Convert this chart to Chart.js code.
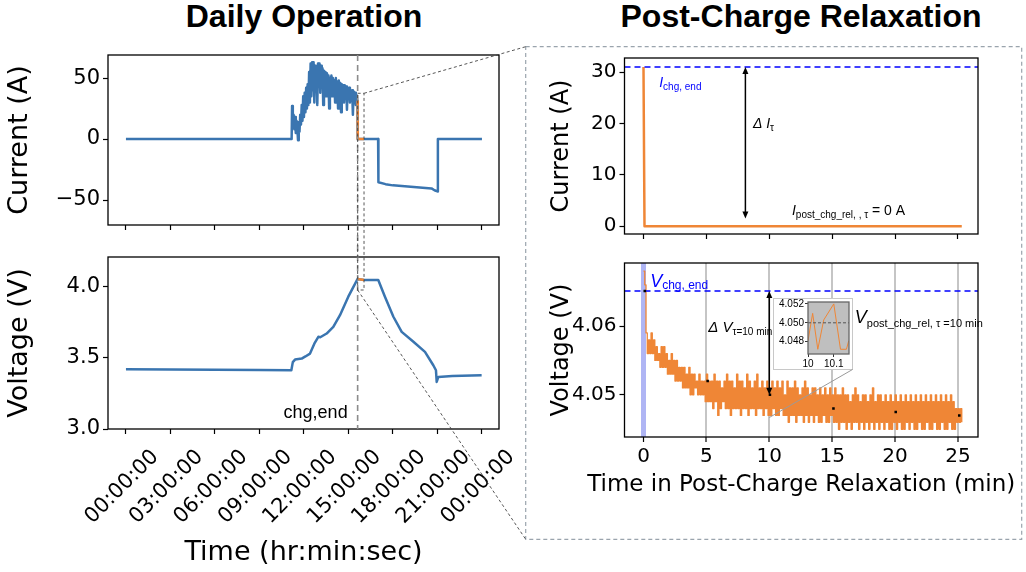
<!DOCTYPE html>
<html>
<head>
<meta charset="utf-8">
<script src="https://cdn.jsdelivr.net/npm/chart.js@4.4.1/dist/chart.umd.min.js"></script>
<style>
  body { margin: 0; background: #fff; }
  #fig { position: relative; width: 1026px; height: 572px; overflow: hidden; background: #fff; }
  #fig canvas { position: absolute; }
  .title { position: absolute; top: 0px; width: 440px; text-align: center; color: #000;
           font: bold 32px 'Liberation Sans', Arial, sans-serif; line-height: 32px; }
  #insetBox { position: absolute; left: 773px; top: 298px; width: 80px; height: 72px;
              background: #fff; border: 1px solid #c8c8c8; box-sizing: border-box; }
</style>
</head>
<body>
<div id="fig">
  <div class="title" style="left:84px">Daily Operation</div>
  <div class="title" style="left:581px">Post-Charge Relaxation</div>
</div>
<script>
// ---- daily operation (hours) ----
const dayTickHours = [0, 3, 6, 9, 12, 15, 18, 21, 24];
const dayTickLabels = ['00:00:00', '03:00:00', '06:00:00', '09:00:00', '12:00:00',
                       '15:00:00', '18:00:00', '21:00:00', '00:00:00'];

const restBeforeHours = [0, 11.17];
const restBeforeAmps = [0, 0];
// charging current, one sample every 0.05 h starting at 11.20 h
const chargeStartHour = 11.2;
const chargeStepHour = 0.05;
const chargeCurrentAmps = [
  27, 12, 20, 8, 18, 5, 15, 10, -1, 14, 6, 20, 12, 28, 15, 35, 18, 38, 22, 42,
  25, 45, 28, 55, 30, 62, 35, 63, 40, 63, 30, 60, 42, 58, 28, 62, 45, 62, 38, 60,
  45, 58, 28, 56, 42, 55, 35, 54, 40, 52, 25, 50, 40, 52, 35, 50, 38, 48, 30, 50,
  38, 47, 25, 48, 36, 46, 22, 45, 36, 44, 30, 44, 35, 43, 24, 42, 34, 42, 30, 40,
  33, 40, 20, 39, 32, 38, 28, 36, 31
];
const afterChargeHours = [15.62, 15.63, 17.0, 17.02, 17.5, 18.0, 19.0, 20.0, 20.6, 20.8, 21.0, 21.03, 24.0];
const afterChargeAmps = [31, 0, 0, -35.5, -37, -38, -39, -40, -40.5, -42, -43, 0, 0];

const dayVoltHours = [0, 3, 6, 9, 11.15, 11.25, 11.4, 11.85, 12.1, 12.41, 12.7, 12.97, 13.1, 13.53,
                      13.98, 14.43, 14.99, 15.62, 16.05, 17.01, 17.46, 18.03, 18.59, 19.38, 20.16,
                      20.72, 20.9, 20.95, 21.06, 22.0, 23.98];
const dayVolts = [3.42, 3.418, 3.416, 3.414, 3.413, 3.47, 3.488, 3.495, 3.51, 3.53, 3.6, 3.648, 3.645,
                  3.671, 3.718, 3.8, 3.93, 4.055, 4.048, 4.047, 3.93, 3.789, 3.683, 3.613, 3.542,
                  3.448, 3.413, 3.331, 3.366, 3.372, 3.378];

// relaxation window highlighted in the daily view
const zoomHours = [15.62, 15.63, 16.05];
const zoomAmps = [31, 0, 0];
const zoomVoltHours = [15.62, 16.05];
const zoomVolts = [4.055, 4.048];
const chgEndHour = 15.62;
const zoomEndHour = 16.05;
const zoomTopAmps = 37.5;
const zoomBottomVolts = 3.977;

// ---- post-charge relaxation (minutes) ----
const relaxTicks = [0, 5, 10, 15, 20, 25];
const relaxCurrentMin = [0, 0.08, 25.3];
const relaxCurrentAmps = [31, 0, 0];
const iChgEnd = 31;

// relaxation voltage, one sample every 0.1 min (pairs: high, low of each 0.2 min)
const relaxStepMin = 0.1;
const relaxVolts = [
  4.068, 4.066, 4.059, 4.056, 4.058, 4.056, 4.059, 4.056, 4.058, 4.055,
  4.057, 4.055, 4.056, 4.054, 4.057, 4.054, 4.057, 4.054, 4.056, 4.053,
  4.055, 4.053, 4.056, 4.053, 4.055, 4.052, 4.055, 4.052, 4.054, 4.052,
  4.054, 4.051, 4.054, 4.051, 4.053, 4.051, 4.054, 4.050, 4.053, 4.050,
  4.053, 4.051, 4.052, 4.050, 4.053, 4.050, 4.052, 4.050, 4.052, 4.049,
  4.053, 4.049, 4.052, 4.049, 4.052, 4.048, 4.053, 4.049, 4.052, 4.047,
  4.052, 4.048, 4.051, 4.049, 4.052, 4.048, 4.053, 4.048, 4.052, 4.047,
  4.052, 4.048, 4.051, 4.048, 4.053, 4.048, 4.052, 4.047, 4.052, 4.048,
  4.051, 4.048, 4.053, 4.047, 4.052, 4.048, 4.051, 4.048, 4.052, 4.047,
  4.053, 4.048, 4.051, 4.048, 4.052, 4.047, 4.051, 4.048, 4.052, 4.047,
  4.051, 4.047, 4.052, 4.048, 4.051, 4.047, 4.052, 4.047, 4.051, 4.048,
  4.052, 4.047, 4.050, 4.047, 4.052, 4.046, 4.051, 4.047, 4.051, 4.047,
  4.052, 4.046, 4.051, 4.047, 4.050, 4.047, 4.051, 4.046, 4.052, 4.047,
  4.051, 4.046, 4.050, 4.047, 4.051, 4.046, 4.051, 4.047, 4.050, 4.046,
  4.051, 4.046, 4.050, 4.047, 4.051, 4.046, 4.050, 4.046, 4.051, 4.047,
  4.050, 4.046, 4.051, 4.046, 4.050, 4.045, 4.050, 4.046, 4.051, 4.046,
  4.050, 4.045, 4.050, 4.046, 4.049, 4.045, 4.050, 4.046, 4.051, 4.046,
  4.050, 4.045, 4.049, 4.046, 4.050, 4.045, 4.050, 4.046, 4.049, 4.045,
  4.050, 4.046, 4.051, 4.045, 4.049, 4.046, 4.050, 4.045, 4.050, 4.046,
  4.049, 4.045, 4.050, 4.046, 4.049, 4.045, 4.050, 4.045, 4.049, 4.046,
  4.050, 4.045, 4.049, 4.046, 4.050, 4.045, 4.049, 4.045, 4.050, 4.046,
  4.049, 4.045, 4.050, 4.046, 4.049, 4.045, 4.050, 4.045, 4.049, 4.046,
  4.050, 4.045, 4.049, 4.045, 4.050, 4.046, 4.049, 4.045, 4.050, 4.045,
  4.049, 4.046, 4.050, 4.045, 4.049, 4.045, 4.050, 4.046, 4.049, 4.045,
  4.050, 4.045, 4.049, 4.046, 4.050, 4.045, 4.049, 4.045, 4.048, 4.046,
  4.048, 4.046, 4.048, 4.046
];
const vChgEnd = 4.0651;
const markerMin = [0.1, 5.1, 10.05, 15.1, 20.05, 25.1];
const markerVolts = [4.0651, 4.052, 4.050, 4.048, 4.0475, 4.047];
const vPost10 = 4.050;

// inset: first seconds after 10 min
const insetMin = [10.0, 10.018, 10.038, 10.061, 10.1, 10.126, 10.149, 10.158];
const insetVolts = [4.0481, 4.0510, 4.0472, 4.0503, 4.0520, 4.0472, 4.0472, 4.0481];

const BLUE = '#3a75b0';
const ORANGE = '#ef8636';
const ARIAL = "'Liberation Sans', Arial, sans-serif";
const DEJAVU = "'DejaVu Sans', sans-serif";

Chart.defaults.font.family = DEJAVU;
Chart.defaults.color = '#000';
Chart.defaults.animation = false;
Chart.defaults.elements.point.radius = 0;
Chart.defaults.elements.line.tension = 0;
Chart.defaults.elements.line.borderJoinStyle = 'round';

const pts = (xs, ys) => xs.map((x, i) => ({x: x, y: ys[i]}));

function addCanvas(left, top, w, h) {
  const c = document.createElement('canvas');
  c.width = w; c.height = h;
  c.style.left = left + 'px'; c.style.top = top + 'px';
  c.style.width = w + 'px'; c.style.height = h + 'px';
  document.getElementById('fig').appendChild(c);
  return c;
}

// axis with fixed size and fixed tick list, matplotlib-like outward ticks
function axis(horizontal, min, max, ticks, size, fontSize, extra) {
  const a = {
    type: 'linear', min: min, max: max,
    afterBuildTicks: s => { s.ticks = ticks.map(v => ({value: v})); },
    afterFit: s => {
      if (horizontal) { s.height = size; s.paddingLeft = 0; s.paddingRight = 0; }
      else { s.width = size; s.paddingTop = 0; s.paddingBottom = 0; }
    },
    border: {display: false},
    grid: {drawOnChartArea: false, tickLength: 5, tickColor: '#000', tickWidth: 1.2, color: '#000'},
    ticks: {padding: 3, autoSkip: false, maxRotation: 0, font: {size: fontSize}}
  };
  extra = extra || {};
  if (extra.grid) Object.assign(a.grid, extra.grid);
  if (extra.ticks) Object.assign(a.ticks, extra.ticks);
  if (extra.title) a.title = extra.title;
  return a;
}

const frame = {
  id: 'frame',
  afterDraw(chart) {
    const {ctx, chartArea: a} = chart;
    ctx.save();
    ctx.strokeStyle = chart.options.frameColor || '#000';
    ctx.lineWidth = 1.3;
    ctx.strokeRect(a.left, a.top, a.right - a.left, a.bottom - a.top);
    ctx.restore();
  }
};

function richText(ctx, x, y, parts, color) {
  ctx.save();
  ctx.fillStyle = color || '#000';
  ctx.textBaseline = 'alphabetic';
  ctx.textAlign = 'left';
  for (const p of parts) {
    ctx.font = (p.it ? 'italic ' : '') + p.size + 'px ' + ARIAL;
    ctx.fillText(p.t, x, y + (p.dy || 0));
    x += ctx.measureText(p.t).width;
  }
  ctx.restore();
}

function dblArrow(ctx, x, yTop, yBot) {
  ctx.save();
  ctx.strokeStyle = '#000'; ctx.fillStyle = '#000'; ctx.lineWidth = 1.5;
  ctx.beginPath(); ctx.moveTo(x, yTop + 5); ctx.lineTo(x, yBot - 5); ctx.stroke();
  [[yTop, 1], [yBot, -1]].forEach(([y, d]) => {
    ctx.beginPath(); ctx.moveTo(x, y); ctx.lineTo(x - 3, y + 7 * d); ctx.lineTo(x + 3, y + 7 * d);
    ctx.closePath(); ctx.fill();
  });
  ctx.restore();
}

const layout = (top, right) => ({padding: {top: top, right: right, left: 0, bottom: 0}});

// ---------- left top: daily current ----------
const P1 = {left: 0, top: 40};
const dayCurrentData = pts(restBeforeHours, restBeforeAmps)
  .concat(chargeCurrentAmps.map((a, i) => ({x: chargeStartHour + i * chargeStepHour, y: a})))
  .concat(pts(afterChargeHours, afterChargeAmps));

const dayCurrentChart = new Chart(addCanvas(P1.left, P1.top, 510, 200), {
  type: 'line',
  data: {datasets: [
    {data: pts(zoomHours, zoomAmps), borderColor: ORANGE, borderWidth: 2.5},
    {data: dayCurrentData, borderColor: BLUE, borderWidth: 2.5}
  ]},
  options: {
    responsive: false, layout: layout(15, 11),
    plugins: {legend: {display: false}, tooltip: {enabled: false}},
    scales: {
      x: axis(true, -1.21, 25.15, dayTickHours, 15, 21, {ticks: {display: false}}),
      y: axis(false, -70.5, 68.9, [-50, 0, 50], 108, 21, {
        ticks: {callback: v => String(v).replace('-', '\u2212')},
        title: {display: true, text: 'Current (A)', font: {size: 27}, padding: {top: 4, bottom: 0}}
      })
    }
  },
  plugins: [frame]
});

// ---------- left bottom: daily voltage ----------
const P2 = {left: 0, top: 242};
const dayVoltChart = new Chart(addCanvas(P2.left, P2.top, 524, 327), {
  type: 'line',
  data: {datasets: [
    {data: pts(zoomVoltHours, zoomVolts), borderColor: ORANGE, borderWidth: 2.5},
    {data: pts(dayVoltHours, dayVolts), borderColor: BLUE, borderWidth: 2.5}
  ]},
  options: {
    responsive: false, layout: layout(15, 25),
    plugins: {legend: {display: false}, tooltip: {enabled: false}},
    scales: {
      x: axis(true, -1.21, 25.15, dayTickHours, 140, 21, {ticks: {display: false}}),
      y: axis(false, 3.0, 4.209, [3.0, 3.5, 4.0], 108, 21, {
        ticks: {callback: v => v.toFixed(1)},
        title: {display: true, text: 'Voltage (V)', font: {size: 27}, padding: {top: 4, bottom: 0}}
      })
    }
  },
  plugins: [frame, {
    id: 'dayLabels',
    afterDraw(chart) {
      const {ctx, scales: {x, y}, chartArea: a} = chart;
      ctx.save();
      ctx.font = '21px ' + DEJAVU;
      ctx.fillStyle = '#000';
      ctx.textAlign = 'center';
      ctx.textBaseline = 'middle';
      dayTickHours.forEach((h, i) => {
        ctx.save();
        ctx.translate(x.getPixelForValue(h) - 4, a.bottom + 58);
        ctx.rotate(-Math.PI / 4);
        ctx.fillText(dayTickLabels[i], 0, 0);
        ctx.restore();
      });
      ctx.font = '27px ' + DEJAVU;
      ctx.fillText('Time (hr:min:sec)', (a.left + a.right) / 2, chart.height - 16);
      ctx.font = '18px ' + ARIAL;
      ctx.textAlign = 'right';
      ctx.textBaseline = 'alphabetic';
      ctx.fillText('chg,end', x.getPixelForValue(chgEndHour) - 10, y.getPixelForValue(3.075));
      ctx.restore();
    }
  }]
});

// ---------- right top: relaxation current ----------
const P3 = {left: 540, top: 50};
const relaxCurrentChart = new Chart(addCanvas(P3.left, P3.top, 448, 194), {
  type: 'line',
  data: {datasets: [
    {data: [{x: -1.51, y: iChgEnd}, {x: 26.59, y: iChgEnd}], borderColor: '#0000ff', borderWidth: 1.5, borderDash: [6, 4]},
    {data: pts(relaxCurrentMin, relaxCurrentAmps), borderColor: ORANGE, borderWidth: 2.5}
  ]},
  options: {
    responsive: false, layout: layout(8, 10),
    plugins: {legend: {display: false}, tooltip: {enabled: false}},
    scales: {
      x: axis(true, -1.51, 26.59, relaxTicks, 10, 20, {ticks: {display: false}}),
      y: axis(false, -1.5, 32.73, [0, 10, 20, 30], 84.5, 20, {
        title: {display: true, text: 'Current (A)', font: {size: 24}, padding: {top: 7, bottom: 0}}
      })
    }
  },
  plugins: [frame, {
    id: 'relaxCurrentNotes',
    afterDatasetsDraw(chart) {
      const {ctx, scales: {x, y}} = chart;
      richText(ctx, x.getPixelForValue(1.25), y.getPixelForValue(27),
        [{t: 'I', size: 14, it: true}, {t: 'chg, end', size: 10, dy: 3}], '#0000ff');
      dblArrow(ctx, x.getPixelForValue(8.1), y.getPixelForValue(iChgEnd), y.getPixelForValue(1.5));
      richText(ctx, x.getPixelForValue(8.7), y.getPixelForValue(19.1),
        [{t: 'Δ ', size: 14, it: true}, {t: 'I', size: 14, it: true}, {t: 'τ', size: 10, dy: 3}]);
      richText(ctx, x.getPixelForValue(11.8), y.getPixelForValue(2.2),
        [{t: 'I', size: 14, it: true}, {t: 'post_chg_rel, , τ', size: 10, dy: 3}, {t: ' = 0 A', size: 14}]);
    }
  }]
});

// ---------- right bottom: relaxation voltage ----------
const P4 = {left: 540, top: 252};
const relaxVoltChart = new Chart(addCanvas(P4.left, P4.top, 484, 247), {
  type: 'line',
  data: {datasets: [
    {type: 'scatter', data: pts(markerMin, markerVolts), pointStyle: 'rect', pointRadius: 1.8,
     backgroundColor: '#000', borderColor: '#000', borderWidth: 0},
    {data: [{x: -1.51, y: vChgEnd}, {x: 26.59, y: vChgEnd}], borderColor: '#0000ff', borderWidth: 1.5, borderDash: [6, 4]},
    {data: relaxVolts.map((v, i) => ({x: i * relaxStepMin, y: v})), borderColor: ORANGE, borderWidth: 1.3, stepped: true}
  ]},
  options: {
    responsive: false, layout: layout(11, 46),
    plugins: {legend: {display: false}, tooltip: {enabled: false}},
    scales: {
      x: axis(true, -1.51, 26.59, relaxTicks, 62, 20, {
        grid: {
          drawOnChartArea: true,
          color: c => c.tick && c.tick.value === 0 ? 'rgba(110,120,235,0.55)' : 'rgba(150,150,150,0.55)',
          lineWidth: c => c.tick && c.tick.value === 0 ? 5 : 2
        }
      }),
      y: axis(false, 4.04387, 4.06917, [4.05, 4.06], 84.5, 20, {
        ticks: {callback: v => v.toFixed(2)},
        title: {display: true, text: 'Voltage (V)', font: {size: 24}, padding: {top: 7, bottom: 0}}
      })
    }
  },
  plugins: [frame, {
    id: 'relaxVoltNotes',
    afterDatasetsDraw(chart) {
      const {ctx, scales: {x, y}} = chart;
      richText(ctx, x.getPixelForValue(0.53), y.getPixelForValue(4.0657),
        [{t: 'V', size: 18, it: true}, {t: 'chg, end', size: 12, dy: 2}], '#0000ff');
      dblArrow(ctx, x.getPixelForValue(10), y.getPixelForValue(vChgEnd), y.getPixelForValue(vPost10));
      richText(ctx, x.getPixelForValue(5.15), y.getPixelForValue(4.05917),
        [{t: 'Δ V', size: 15, it: true}, {t: 'τ=10 min', size: 10, dy: 3}]);
      richText(ctx, x.getPixelForValue(16.8), y.getPixelForValue(4.0604),
        [{t: 'V', size: 18, it: true}, {t: 'post_chg_rel, τ =10 min', size: 11, dy: 4}]);
    },
    afterDraw(chart) {
      // axis title drawn by hand so it is not squeezed to the plot width
      const {ctx, chartArea: a} = chart;
      ctx.save();
      ctx.font = '23px ' + DEJAVU;
      ctx.fillStyle = '#000';
      ctx.textAlign = 'center';
      ctx.textBaseline = 'middle';
      ctx.fillText('Time in Post-Charge Relaxation (min)', (a.left + a.right) / 2, chart.height - 14);
      ctx.restore();
    }
  }]
});

// ---------- inset ----------
const box = document.createElement('div');
box.id = 'insetBox';
document.getElementById('fig').appendChild(box);

const P5 = {left: 775, top: 299};
const insetChart = new Chart(addCanvas(P5.left, P5.top, 76, 70), {
  type: 'line',
  data: {datasets: [
    {data: [{x: 10.0, y: vPost10}, {x: 10.159, y: vPost10}], borderColor: '#555', borderWidth: 1, borderDash: [3, 2]},
    {data: pts(insetMin, insetVolts), borderColor: ORANGE, borderWidth: 1}
  ]},
  options: {
    responsive: false, layout: layout(3, 2), frameColor: '#666',
    plugins: {legend: {display: false}, tooltip: {enabled: false}},
    scales: {
      x: axis(true, 10.0, 10.159, [10, 10.1], 15, 10, {
        grid: {tickLength: 3, tickWidth: 0.8},
        ticks: {padding: 1, font: {size: 10, family: ARIAL}, callback: v => v === 10 ? '10' : v.toFixed(1)}
      }),
      y: axis(false, 4.0467, 4.0522, [4.048, 4.050, 4.052], 33, 10, {
        grid: {tickLength: 3, tickWidth: 0.8},
        ticks: {padding: 1, font: {size: 10, family: ARIAL}, callback: v => v.toFixed(3)}
      })
    }
  },
  plugins: [frame, {
    id: 'insetBg',
    beforeDatasetsDraw(chart) {
      const {ctx, chartArea: a} = chart;
      ctx.save(); ctx.fillStyle = '#bfbfbf';
      ctx.fillRect(a.left, a.top, a.right - a.left, a.bottom - a.top);
      ctx.restore();
    }
  }]
});

// ---------- overlay: zoom box, connectors ----------
const ov = addCanvas(0, 0, 1026, 572).getContext('2d');
const dx = dayCurrentChart.scales.x;
const zx1 = P1.left + dx.getPixelForValue(chgEndHour);
const zx2 = P1.left + dx.getPixelForValue(zoomEndHour);
const zy1 = P1.top + dayCurrentChart.scales.y.getPixelForValue(zoomTopAmps);
const zy2 = P2.top + dayVoltChart.scales.y.getPixelForValue(zoomBottomVolts);
const topArea = P1.top + dayCurrentChart.chartArea.top;
const botArea = P2.top + dayVoltChart.chartArea.bottom;

// chg,end marker line
ov.save();
ov.strokeStyle = '#8c8c8c'; ov.lineWidth = 1.6; ov.setLineDash([6, 4]);
ov.beginPath(); ov.moveTo(zx1, topArea); ov.lineTo(zx1, botArea); ov.stroke();
ov.restore();

// right dashed frame
const RB = {left: 525.7, top: 46.7, right: 1021.7, bottom: 539.3};
ov.save();
ov.strokeStyle = '#9aa4ad'; ov.lineWidth = 1.2; ov.setLineDash([4, 3]);
ov.strokeRect(RB.left, RB.top, RB.right - RB.left, RB.bottom - RB.top);
ov.restore();

// zoom rectangle and connectors
ov.save();
ov.strokeStyle = '#444'; ov.lineWidth = 0.9; ov.setLineDash([3, 2.5]);
ov.strokeRect(zx1, zy1, zx2 - zx1, zy2 - zy1);
ov.beginPath(); ov.moveTo(zx2, zy1); ov.lineTo(RB.left, RB.top); ov.stroke();
ov.beginPath(); ov.moveTo(zx1, zy2); ov.lineTo(RB.left, RB.bottom); ov.stroke();
ov.restore();

// inset connector
const rvx = relaxVoltChart.scales.x, rvy = relaxVoltChart.scales.y;
ov.save();
ov.strokeStyle = '#9a9a9a'; ov.lineWidth = 1;
ov.beginPath();
ov.moveTo(P4.left + rvx.getPixelForValue(10.0), P4.top + rvy.getPixelForValue(4.0467));
ov.lineTo(852.5, 369.5);
ov.stroke();
ov.restore();
</script>
</body>
</html>
